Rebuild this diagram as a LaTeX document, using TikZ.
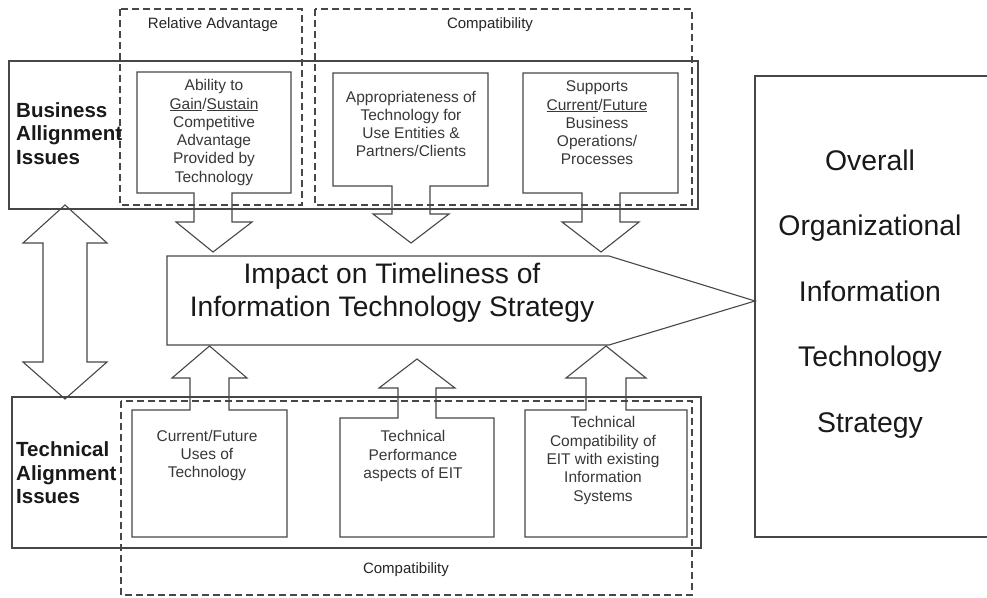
\documentclass[tikz,border=0pt]{standalone}
\usepackage{fontspec}
\setmainfont{Liberation Sans}
\begin{document}
\begin{tikzpicture}[x=1pt,y=-1pt,
  ln/.style={draw=black!72, line width=1.1pt, line join=miter},
  dsh/.style={draw=black!72, line width=1.1pt, dash pattern=on 7pt off 4pt},
  boxtxt/.style={align=center, text=black!78, inner sep=0pt, font=\fontsize{15.5}{18.3}\selectfont},
  lbl/.style={align=left, anchor=west, inner sep=0pt, text=black!90, font=\bfseries\fontsize{20.5}{23.4}\selectfont},
  grp/.style={inner sep=0pt, text=black!85, font=\fontsize{15}{18}\selectfont},
  big/.style={align=center, inner sep=0pt, text=black!90, font=\fontsize{28.2}{33}\selectfont},
  huge/.style={align=center, inner sep=0pt, text=black!90, font=\fontsize{28.4}{65.5}\selectfont}]
\useasboundingbox[fill=white] (0,0) rectangle (987,597);

% outer alignment boxes
\draw[ln] (9,61) rectangle (698,209);
\draw[ln] (12,397) rectangle (701,548);

% dashed groups
\draw[dsh] (120,9) rectangle (302,205);
\draw[dsh] (315,9) rectangle (692,205);
\draw[dsh] (121,401) rectangle (692,595);
\node[grp] (reladv) at (213,25) {Relative Advantage};
\node[grp] (compat1) at (490,25) {Compatibility};
\node[grp] (compat2) at (406,570) {Compatibility};

% labels
\node[lbl] (bus) at (16,133.5) {Business\\Allignment\\Issues};
\node[lbl] (tech) at (16,473) {Technical\\Alignment\\Issues};

% business sub-boxes with down arrows
\draw[ln] (137,193) -- (137,72) -- (291,72) -- (291,193) -- (232,193) -- (232,222)
  -- (252,222) -- (213,252) -- (176,222) -- (194,222) -- (194,193) -- cycle;
\node[boxtxt] (ability) at (214,132.5) {Ability to\\\underline{Gain}/\underline{Sustain}\\Competitive\\Advantage\\Provided by\\Technology};

\draw[ln] (333,186) -- (333,73) -- (488,73) -- (488,186) -- (430,186) -- (430,214)
  -- (449,214) -- (411,243) -- (373,214) -- (392,214) -- (392,186) -- cycle;
\node[boxtxt] (approp) at (411,124) {Appropriateness of\\Technology for\\Use Entities \&\\Partners/Clients};

\draw[ln] (523,193) -- (523,73) -- (678,73) -- (678,193) -- (620,193) -- (620,222)
  -- (639,222) -- (601,252) -- (562,222) -- (582,222) -- (582,193) -- cycle;
\node[boxtxt] (supports) at (597,123) {Supports\\\underline{Current}/\underline{Future}\\Business\\Operations/\\Processes};

% technical sub-boxes with up arrows
\draw[ln] (132,410) -- (132,537) -- (287,537) -- (287,410) -- (229,410) -- (229,378)
  -- (247,378) -- (209.5,346) -- (172,378) -- (190,378) -- (190,410) -- cycle;
\node[boxtxt] (uses) at (207,455.5) {Current/Future\\Uses of\\Technology};

\draw[ln] (340,418) -- (340,537) -- (494,537) -- (494,418) -- (436,418) -- (436,388)
  -- (455,388) -- (417,359) -- (379,388) -- (398,388) -- (398,418) -- cycle;
\node[boxtxt] (perf) at (413,456) {Technical\\Performance\\aspects of EIT};

\draw[ln] (525,410) -- (525,537) -- (687,537) -- (687,410) -- (626,410) -- (626,378)
  -- (646,378) -- (606,346) -- (566,378) -- (586,378) -- (586,410) -- cycle;
\node[boxtxt] (techcomp) at (603,460.5) {Technical\\Compatibility of\\EIT with existing\\Information\\Systems};

% double arrow between alignment boxes
\draw[ln] (65,205) -- (107,243) -- (87,243) -- (87,362) -- (107,362) -- (65,399)
  -- (23,362) -- (43,362) -- (43,243) -- (23,243) -- cycle;

% impact arrow
\draw[ln] (167,256) -- (609,256) -- (755,301) -- (609,345) -- (167,345) -- cycle;
\node[big] (impact) at (392,293) {Impact on Timeliness of\\Information Technology Strategy};

% overall box
\draw[ln] (995,76) -- (755,76) -- (755,537) -- (995,537);
\node[huge] (overall) at (870,294) {Overall\\Organizational\\Information\\Technology\\Strategy};
\end{tikzpicture}
\end{document}
